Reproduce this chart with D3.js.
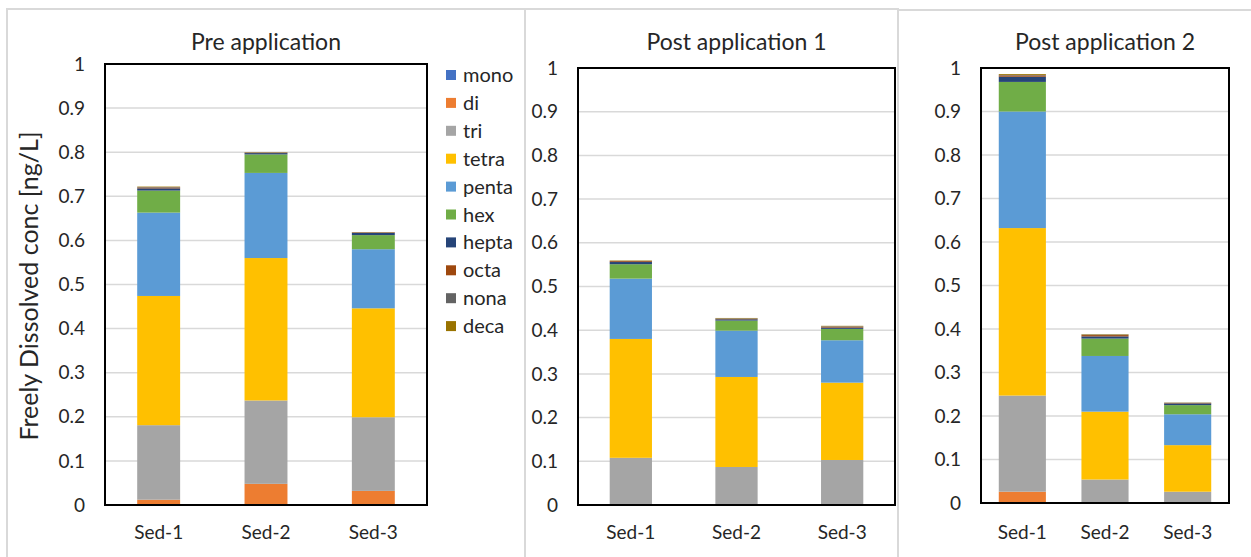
<!DOCTYPE html>
<html>
<head>
<meta charset="utf-8">
<script src="https://cdn.jsdelivr.net/npm/d3@7"></script>
<style>
  body { margin: 0; background: #fff; }
  text { font-family: Lato, "Open Sans", sans-serif; fill: #262626; }
</style>
</head>
<body>
<div id="chart"></div>
<script>
// data
var samples = ["Sed-1", "Sed-2", "Sed-3"];
var series = ["mono", "di", "tri", "tetra", "penta", "hex", "hepta", "octa", "nona", "deca"];
var colors = ["#4472C4", "#ED7D31", "#A5A5A5", "#FFC000", "#5B9BD5", "#70AD47", "#264478", "#9E480E", "#636363", "#997300"];
var titles = ["Pre application", "Post application 1", "Post application 2"];
var yTicks = [0, 0.1, 0.2, 0.3, 0.4, 0.5, 0.6, 0.7, 0.8, 0.9, 1];

// one row per homologue group, one value per sample
var preApp = [
  [0, 0, 0],
  [0.012, 0.048, 0.032],
  [0.169, 0.189, 0.167],
  [0.293, 0.323, 0.247],
  [0.189, 0.193, 0.134],
  [0.050, 0.042, 0.032],
  [0.005, 0.003, 0.005],
  [0.002, 0.001, 0.001],
  [0.001, 0.0005, 0.0005],
  [0.001, 0.0005, 0.0005]
];
var postApp1 = [
  [0, 0, 0],
  [0, 0, 0],
  [0.108, 0.087, 0.103],
  [0.272, 0.206, 0.177],
  [0.138, 0.106, 0.097],
  [0.033, 0.023, 0.026],
  [0.005, 0.003, 0.003],
  [0.002, 0.001, 0.002],
  [0.0005, 0.001, 0.001],
  [0.001, 0.001, 0.001]
];
var postApp2 = [
  [0, 0, 0],
  [0.026, 0, 0],
  [0.221, 0.054, 0.026],
  [0.385, 0.156, 0.107],
  [0.268, 0.128, 0.071],
  [0.068, 0.040, 0.021],
  [0.012, 0.005, 0.004],
  [0.003, 0.003, 0.001],
  [0.001, 0.001, 0.0005],
  [0.002, 0.001, 0.0005]
];

var width = 1251, height = 557;
var svg = d3.select("#chart").append("svg").attr("width", width).attr("height", height);

// outer panel frames
var frames = [[7, 9, 525], [525, 9, 898], [898, 10, 1260]];
frames.forEach(function (f) {
  svg.append("rect").attr("x", f[0]).attr("y", f[1]).attr("width", f[2] - f[0]).attr("height", height + 10)
    .attr("fill", "none").attr("stroke", "#d9d9d9").attr("stroke-width", 2);
});

var panels = [
  { data: preApp, left: 105, right: 427, top: 64, bottom: 505, pad: 0.6 },
  { data: postApp1, left: 578, right: 895, top: 68, bottom: 505, pad: 0.6 },
  { data: postApp2, left: 981, right: 1229, top: 68, bottom: 503, pad: 0.43 }
];

panels.forEach(function (p, pi) {
  var x = d3.scaleBand().domain(samples).range([p.left, p.right]).paddingInner(p.pad).paddingOuter(p.pad / 2);
  var y = d3.scaleLinear().domain([0, 1]).range([p.bottom, p.top]);
  var g = svg.append("g");

  // gridlines
  g.selectAll(".grid").data(yTicks.slice(1)).enter().append("line")
    .attr("x1", p.left).attr("x2", p.right)
    .attr("y1", function (d) { return y(d); }).attr("y2", function (d) { return y(d); })
    .attr("stroke", "#d9d9d9").attr("stroke-width", 1.5);

  // stacked bars
  var rows = samples.map(function (s, i) {
    var r = { sample: s };
    series.forEach(function (k, j) { r[k] = p.data[j][i]; });
    return r;
  });
  var stack = d3.stack().keys(series)(rows);
  g.selectAll(".layer").data(stack).enter().append("g")
    .attr("fill", function (d, i) { return colors[i]; })
    .selectAll("rect").data(function (d) { return d; }).enter().append("rect")
    .attr("x", function (d) { return x(d.data.sample); })
    .attr("width", x.bandwidth())
    .attr("y", function (d) { return y(d[1]); })
    .attr("height", function (d) { return y(d[0]) - y(d[1]); });

  // plot frame
  g.append("rect").attr("x", p.left).attr("y", p.top)
    .attr("width", p.right - p.left).attr("height", p.bottom - p.top)
    .attr("fill", "none").attr("stroke", "#000").attr("stroke-width", 2);

  // y tick labels
  g.selectAll(".ytick").data(yTicks).enter().append("text")
    .attr("x", p.left - 20).attr("y", function (d) { return y(d); })
    .attr("dy", "0.35em").attr("text-anchor", "end").style("font-size", "19px")
    .text(function (d) { return d; });

  // x labels
  g.selectAll(".xtick").data(samples).enter().append("text")
    .attr("x", function (d) { return x(d) + x.bandwidth() / 2; }).attr("y", 539)
    .attr("text-anchor", "middle").style("font-size", "19px")
    .text(function (d) { return d; });

  // title
  g.append("text").attr("x", (p.left + p.right) / 2).attr("y", 50)
    .attr("text-anchor", "middle").style("font-size", "23px").text(titles[pi]);
});

// y axis title
svg.append("text").attr("transform", "translate(38,286) rotate(-90)")
  .attr("text-anchor", "middle").style("font-size", "25px")
  .text("Freely Dissolved conc [ng/L]");

// legend
var leg = svg.append("g");
series.forEach(function (s, i) {
  var ly = 75 + i * 27.9;
  leg.append("rect").attr("x", 446).attr("y", ly - 5).attr("width", 10).attr("height", 10).attr("fill", colors[i]);
  leg.append("text").attr("x", 463).attr("y", ly).attr("dy", "0.35em").style("font-size", "20px").text(s);
});
</script>
</body>
</html>
